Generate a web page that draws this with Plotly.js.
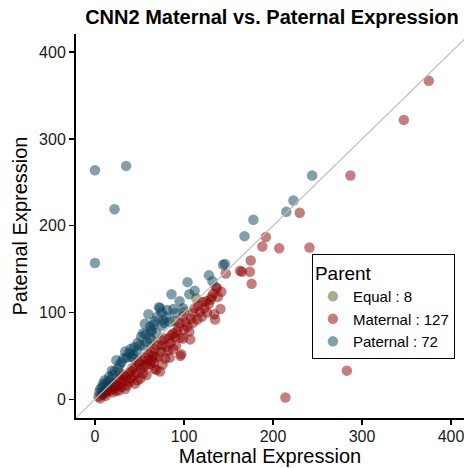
<!DOCTYPE html>
<html>
<head>
<meta charset="utf-8">
<script src="https://cdn.plot.ly/plotly-3.0.1.min.js"></script>
<style>
  html, body { margin: 0; padding: 0; background: #ffffff; }
  #chart { width: 464px; height: 468px; }
</style>
</head>
<body>
<div id="chart"></div>
<script>
// CNN2 allele expression: maternal vs paternal counts per sample
const equalMat = [114, 90, 64, 43, 28, 15, 8, 100];
const equalPat = [116, 90, 68, 48, 30, 16, 8, 101];

const maternalMat = [375, 347, 287, 230, 192, 188, 207, 241, 175, 214, 283, 165, 174, 176, 147, 163,
  137, 133, 136, 141, 134, 135, 128, 121, 118, 110, 108, 102, 106, 107, 96, 96, 91, 82, 75, 88, 94, 99,
  73, 75, 67, 60, 49, 67, 58, 52, 41, 34, 26, 19, 34, 11, 4, 45, 51, 79, 6, 39, 69, 97, 131, 125, 112,
  115, 120, 126, 130, 100, 95, 90, 85, 80, 86, 78, 70, 72, 65, 63, 62, 56, 55, 50, 47, 45, 42, 38, 36,
  32, 30, 28, 25, 23, 21, 17, 15, 13, 10, 8, 12, 20, 24, 30, 40, 44, 48, 54, 58, 60, 64, 68, 74, 83, 88,
  92, 104, 110, 116, 123, 138, 142, 99, 76, 36, 27, 53, 66, 84];
const maternalPat = [367, 322, 258, 215, 187, 176, 174, 175, 160, 2, 33, 147, 147, 133, 145, 148,
  128, 122, 129, 104, 98, 92, 110, 112, 101, 99, 93, 89, 78, 69, 71, 50, 62, 56, 62, 76, 83, 95,
  32, 68, 58, 45, 43, 35, 28, 35, 32, 26, 16, 12, 12, 7, 3, 18, 24, 47, 1, 20, 34, 52, 118, 113, 105,
  92, 95, 100, 115, 80, 88, 72, 65, 60, 74, 70, 62, 50, 50, 55, 40, 48, 38, 40, 30, 38, 36, 30, 22,
  28, 20, 24, 20, 14, 18, 10, 13, 9, 8, 5, 4, 8, 10, 14, 24, 28, 22, 30, 40, 52, 45, 48, 55, 70, 58,
  78, 84, 88, 108, 105, 118, 124, 70, 40, 16, 10, 45, 42, 48];

const paternalMat = [0, 35, 22, 0, 244, 223, 215, 178, 168, 144, 146, 128, 104, 132, 86, 106, 81, 73,
  90, 99, 77, 72, 60, 56, 84, 54, 64, 69, 58, 55, 34, 38, 24, 19, 11, 8, 30, 41, 47, 62, 66, 70, 75,
  62, 52, 48, 44, 40, 36, 32, 28, 26, 22, 20, 16, 14, 12, 9, 6, 5, 17, 43, 50, 57, 63, 67, 80, 88, 95,
  112, 75, 78];
const paternalPat = [264, 269, 219, 157, 258, 229, 216, 207, 188, 155, 156, 143, 135, 136, 121, 121,
  103, 105, 99, 105, 91, 106, 98, 87, 89, 76, 80, 76, 66, 62, 55, 53, 45, 33, 22, 14, 43, 49, 55, 70,
  86, 95, 85, 84, 72, 65, 60, 58, 48, 47, 40, 36, 32, 28, 26, 20, 17, 18, 12, 8, 22, 52, 62, 75, 78,
  90, 95, 104, 113, 125, 100, 88];

const groupNames = ['Equal', 'Maternal', 'Paternal'];
const groupColors = ['#565a1a', '#8b0000', '#05405a'];

// limits of the y = x reference line
const identityLine = [-40, 460];

const font = 'Liberation Sans, Arial, Helvetica, sans-serif';

function pointTrace(xs, ys, i) {
  return {
    type: 'scatter',
    mode: 'markers',
    x: xs,
    y: ys,
    name: groupNames[i] + ' : ' + xs.length,
    marker: { size: 10.5, color: groupColors[i], opacity: 0.5, line: { width: 0 } },
    hoverinfo: 'x+y'
  };
}

const traces = [
  pointTrace(equalMat, equalPat, 0),
  pointTrace(maternalMat, maternalPat, 1),
  pointTrace(paternalMat, paternalPat, 2),
  {
    type: 'scatter',
    mode: 'lines',
    x: identityLine,
    y: identityLine,
    line: { color: '#bebebe', width: 1.2 },
    showlegend: false,
    hoverinfo: 'skip'
  }
];

const axisCommon = {
  showgrid: false,
  zeroline: false,
  showline: true,
  linecolor: '#000000',
  linewidth: 2,
  ticks: 'outside',
  ticklen: 5,
  tickwidth: 1.5,
  tickcolor: '#000000',
  tickfont: { family: font, size: 16, color: '#1a1a1a' },
  tickvals: [0, 100, 200, 300, 400],
  ticklabeloverflow: 'allow',
  automargin: false
};

const layout = {
  width: 464,
  height: 468,
  margin: { l: 76, r: 0, t: 34, b: 50 },
  paper_bgcolor: '#ffffff',
  plot_bgcolor: '#ffffff',
  font: { family: font, color: '#000000' },
  title: {
    text: '<b>CNN2 Maternal vs. Paternal Expression</b>',
    font: { family: font, size: 20, color: '#000000' },
    x: 0.586,
    xanchor: 'center',
    y: 0.963,
    yanchor: 'middle'
  },
  xaxis: Object.assign({}, axisCommon, {
    range: [-21.3, 414.6],
    ticklabelstandoff: -2,
    title: { text: 'Maternal Expression', font: { family: font, size: 20, color: '#000000' }, standoff: 4 }
  }),
  yaxis: Object.assign({}, axisCommon, {
    range: [-21.6, 421],
    title: { text: 'Paternal Expression', font: { family: font, size: 20, color: '#000000' }, standoff: 6 }
  }),
  showlegend: true,
  legend: {
    x: 0.608,
    y: 0.426,
    xanchor: 'left',
    yanchor: 'top',
    bgcolor: '#ffffff',
    bordercolor: '#000000',
    borderwidth: 1,
    font: { family: font, size: 15, color: '#000000' },
    title: { text: 'Parent', font: { family: font, size: 19, color: '#000000' } },
    itemsizing: 'trace',
    itemwidth: 30,
    tracegroupgap: 0
  }
};

Plotly.newPlot('chart', traces, layout, { staticPlot: true, displayModeBar: false });
</script>
</body>
</html>
